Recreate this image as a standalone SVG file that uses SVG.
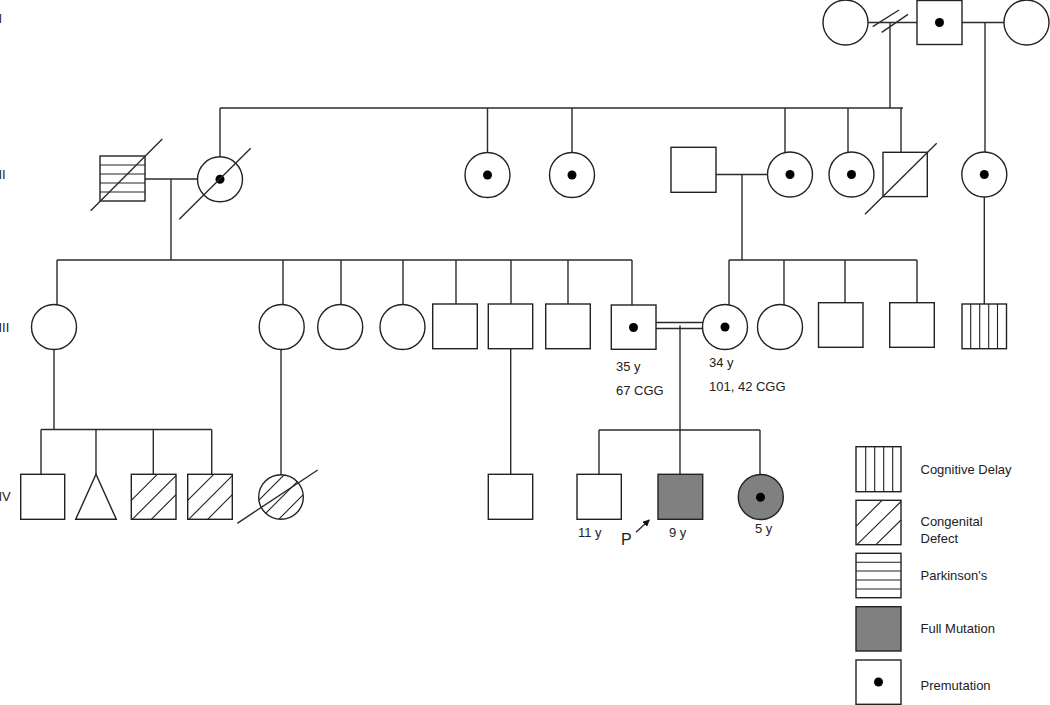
<svg xmlns="http://www.w3.org/2000/svg" width="1050" height="705" viewBox="0 0 1050 705">
<style>
.ln{stroke:#2b2b2b;stroke-width:1.4;fill:none}
.sh{stroke:#222;stroke-width:1.4;fill:#fff}
.fm{fill:#808080}
.dot{fill:#000}
.h{stroke:#222;stroke-width:1.1;fill:none}
text{font-family:"Liberation Sans",Arial,sans-serif;font-size:13px;fill:#222}
</style>
<defs>
<marker id="ah" viewBox="0 0 10 10" refX="9" refY="5" markerWidth="7" markerHeight="7" orient="auto" markerUnits="userSpaceOnUse">
<path d="M0,0 L10,5 L0,10 z" fill="#111"/>
</marker>
<clipPath id="cc"><circle cx="281" cy="497" r="22.3"/></clipPath>
</defs>
<rect width="1050" height="705" fill="#fff"/>

<g id="gen-labels">
<text x="-1.5" y="23">I</text>
<text x="-1.5" y="179">II</text>
<text x="-1.5" y="332">III</text>
<text x="-1.5" y="501">IV</text>
</g>

<g id="connectors" class="ln">
<path d="M868,22.5 H917"/>
<path d="M872.7,26.7 L899,10 M881.7,32.3 L908,14.3"/>
<path d="M890,22.5 V108"/>
<path d="M962,22.5 H1004"/>
<path d="M985,22.5 V152"/>
<path d="M220,108 H903"/>
<path d="M220,108 V157 M487.5,108 V152.5 M572,108 V152.5 M785,108 V153 M848,108 V152.5 M901,108 V152"/>
<path d="M145,179 H197.5"/>
<path d="M171,179 V260"/>
<path d="M716,174.5 H767.5"/>
<path d="M742,174.5 V260"/>
<path d="M984.3,197 V304"/>
<path d="M57,260 H632"/>
<path d="M57,260 V304.7 M283,260 V304.7 M341,260 V304.5 M403,260 V304.5 M456,260 V304 M511,260 V304 M568,260 V304 M632,260 V305"/>
<path d="M729,260 H917"/>
<path d="M729,260 V305 M784,260 V305 M845,260 V303 M917,260 V303"/>
<path d="M656,322.5 H703 M656,328.5 H703"/>
<path d="M680,325.5 V430"/>
<path d="M599,430 H760"/>
<path d="M599,430 V474.3 M680,430 V474.3 M760,430 V474.5"/>
<path d="M54,349.5 V429.5"/>
<path d="M41,429.5 H211.7"/>
<path d="M41,429.5 V474.3 M96,429.5 V474.3 M153.3,429.5 V474.3 M211.7,429.5 V474.3"/>
<path d="M281,349.5 V474.7"/>
<path d="M510.7,348.7 V474.3"/>
<path d="M636,532.3 L649.3,520" marker-end="url(#ah)"/>
</g>

<g id="I-1"><circle class="sh" cx="845.5" cy="22.5" r="22.5"/></g>
<g id="I-2"><rect class="sh" x="917" y="0.5" width="45" height="44"/><circle class="dot" cx="939.5" cy="22.5" r="4.5"/></g>
<g id="I-3"><circle class="sh" cx="1026.5" cy="22.5" r="22.5"/></g>

<g id="II-1"><rect class="sh" x="100" y="156" width="45" height="45"/><path class="h" d="M100,165 H145 M100,174 H145 M100,183 H145 M100,192 H145"/><path class="ln" d="M90.7,210.7 L162.3,139"/></g>
<g id="II-2"><circle class="sh" cx="220" cy="179.3" r="22.5"/><circle class="dot" cx="220" cy="179.3" r="4.5"/><path class="ln" d="M179.3,219.3 L250.7,148.3"/></g>
<g id="II-3"><circle class="sh" cx="487.5" cy="175" r="22.5"/><circle class="dot" cx="487.5" cy="175" r="4.5"/></g>
<g id="II-4"><circle class="sh" cx="572" cy="175" r="22.5"/><circle class="dot" cx="572" cy="175" r="4.5"/></g>
<g id="II-5"><rect class="sh" x="671" y="147.3" width="45" height="45"/></g>
<g id="II-6"><circle class="sh" cx="790" cy="174.5" r="22.5"/><circle class="dot" cx="790" cy="174.5" r="4.5"/></g>
<g id="II-7"><circle class="sh" cx="851.5" cy="174.5" r="22.5"/><circle class="dot" cx="851.5" cy="174.5" r="4.5"/></g>
<g id="II-8"><rect class="sh" x="883" y="152.3" width="44.3" height="44.3"/><path class="ln" d="M865,214.3 L936.7,143.3"/></g>
<g id="II-9"><circle class="sh" cx="984.3" cy="174.5" r="22.5"/><circle class="dot" cx="984.3" cy="174.5" r="4.5"/></g>

<g id="III-1"><circle class="sh" cx="54" cy="327" r="22.5"/></g>
<g id="III-2"><circle class="sh" cx="281.7" cy="327" r="22.5"/></g>
<g id="III-3"><circle class="sh" cx="340.2" cy="327" r="22.5"/></g>
<g id="III-4"><circle class="sh" cx="402.5" cy="327" r="22.5"/></g>
<g id="III-5"><rect class="sh" x="432.7" y="304" width="44.6" height="44.7"/></g>
<g id="III-6"><rect class="sh" x="488.3" y="304" width="44.4" height="44.7"/></g>
<g id="III-7"><rect class="sh" x="545.7" y="304" width="44.6" height="44.7"/></g>
<g id="III-8"><rect class="sh" x="611.3" y="305" width="44.7" height="44.3"/><circle class="dot" cx="633.5" cy="327.5" r="4.5"/>
<text x="616" y="371">35 y</text><text x="616" y="395">67 CGG</text></g>
<g id="III-9"><circle class="sh" cx="725" cy="327" r="22.5"/><circle class="dot" cx="725" cy="327" r="4.5"/>
<text x="709" y="367">34 y</text><text x="709" y="391">101, 42 CGG</text></g>
<g id="III-10"><circle class="sh" cx="780" cy="327" r="22.5"/></g>
<g id="III-11"><rect class="sh" x="818.5" y="302.7" width="44.5" height="44.6"/></g>
<g id="III-12"><rect class="sh" x="889.7" y="302.7" width="44.6" height="44.6"/></g>
<g id="III-13"><rect class="sh" x="962" y="304" width="44.5" height="44.7"/><path class="h" d="M970.7,304 V348.7 M979.7,304 V348.7 M988.7,304 V348.7 M997.5,304 V348.7"/></g>

<g id="IV-1"><rect class="sh" x="20.7" y="474.3" width="44" height="45"/></g>
<g id="IV-2"><path class="sh" d="M75.7,519.3 L96,474.3 L116.3,519.3 Z"/></g>
<g id="IV-3"><rect class="sh" x="131.3" y="474.3" width="44.7" height="45"/><path class="h" d="M131.3,500.3 L157.3,474.3 M132.3,519.3 L176,475.6 M151.3,519.3 L176,494.6"/></g>
<g id="IV-4"><rect class="sh" x="187.7" y="474.3" width="44.6" height="45"/><path class="h" d="M187.7,500.3 L213.7,474.3 M188.7,519.3 L232.3,475.6 M207.7,519.3 L232.3,494.6"/></g>
<g id="IV-5"><circle class="sh" cx="281" cy="497" r="22.3"/><g clip-path="url(#cc)"><path class="h" d="M258.7,500.3 L284.7,474.3 M259.7,519.3 L303.3,475.6 M278.7,519.3 L303.3,494.6"/></g><path class="ln" d="M237.3,523.3 L317.7,470"/></g>
<g id="IV-6"><rect class="sh" x="488.3" y="474.3" width="44.4" height="45"/></g>
<g id="IV-7"><rect class="sh" x="577" y="474.3" width="44.3" height="45"/><text x="578" y="537">11 y</text></g>
<g id="IV-8"><rect class="sh fm" x="658" y="474.3" width="44.7" height="45"/><text x="669" y="537">9 y</text><text x="621" y="545" style="font-size:16px">P</text></g>
<g id="IV-9"><circle class="sh fm" cx="760.8" cy="497" r="22.5"/><circle class="dot" cx="760.5" cy="497.3" r="4.5"/><text x="755" y="533">5 y</text></g>

<g id="legend">
<g id="leg-cog"><rect class="sh" x="856" y="446.7" width="45" height="45"/><path class="h" d="M865.7,446.7 V491.7 M874.7,446.7 V491.7 M883.7,446.7 V491.7 M892.7,446.7 V491.7"/><text x="920.5" y="473.5">Cognitive Delay</text></g>
<g id="leg-con"><rect class="sh" x="856" y="500.3" width="45" height="44.4"/><path class="h" d="M856,526.3 L882,500.3 M857,544.7 L901,501.5 M876,544.7 L901,520"/><text x="920.5" y="526">Congenital</text><text x="920.5" y="542.5">Defect</text></g>
<g id="leg-park"><rect class="sh" x="856" y="553.3" width="45" height="44.4"/><path class="h" d="M856,562.3 H901 M856,571 H901 M856,580 H901 M856,589 H901"/><text x="920.5" y="579.5">Parkinson's</text></g>
<g id="leg-full"><rect class="sh fm" x="856" y="606.7" width="45" height="44.3"/><text x="920.5" y="633">Full Mutation</text></g>
<g id="leg-pre"><rect class="sh" x="856" y="660" width="45" height="44.3"/><circle class="dot" cx="878.5" cy="682" r="4.5"/><text x="920.5" y="689.5">Premutation</text></g>
</g>
</svg>
